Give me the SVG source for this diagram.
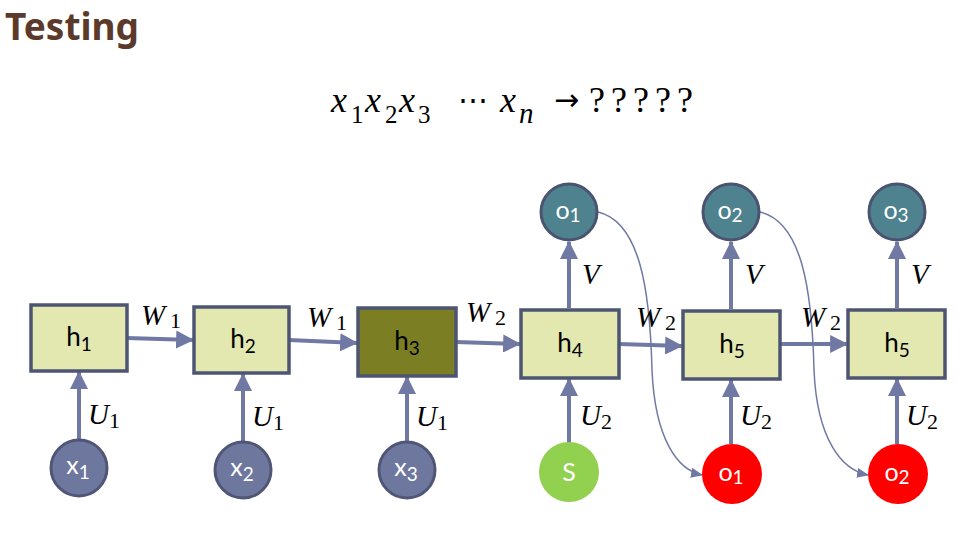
<svg xmlns="http://www.w3.org/2000/svg" width="968" height="535" viewBox="0 0 968 535">
<defs>
<marker id="ah" markerUnits="userSpaceOnUse" markerWidth="18" markerHeight="18" refX="15" refY="8" orient="auto" viewBox="0 0 16 16">
<path d="M0,0 L16,8 L0,16 Z" fill="#7079A3"/>
</marker>
<marker id="ahs" markerUnits="userSpaceOnUse" markerWidth="12" markerHeight="12" refX="11" refY="6" orient="auto" viewBox="0 0 12 12">
<path d="M0,1 L12,6 L0,11 Z" fill="#7079A3"/>
</marker>
<style>
.box{fill:#E3E8B1;stroke:#4E5573;stroke-width:3.5}
.dark{fill:#7B7E22}
.xc{fill:#6E779E;stroke:#4F5676;stroke-width:3}
.oc{fill:#4E828F;stroke:#4A5370;stroke-width:3}
.rc{fill:#FF0000}
.gc{fill:#92D050}
.ar{stroke:#7079A3;stroke-width:4;fill:none;marker-end:url(#ah)}
.cv{stroke:#7079A3;stroke-width:1.5;fill:none;marker-end:url(#ahs)}
.bt{font-family:Lato,"Open Sans",sans-serif;font-size:26px;fill:#000;text-anchor:middle}
.ct{font-family:Lato,"Open Sans",sans-serif;font-size:25px;fill:#fff;text-anchor:middle}
.sub{font-size:19px}
.lb{font-family:"Liberation Serif",serif;font-style:italic;font-size:29px;fill:#000}
.ls{font-family:"Liberation Serif",serif;font-size:22px;fill:#000}
.fx{font-family:"Liberation Serif",serif;font-style:italic;font-size:36px;fill:#000}
.fs{font-family:"Liberation Serif",serif;font-size:25px;fill:#000}
.fq{font-family:"Liberation Serif",serif;font-size:36px;fill:#000}
</style>
</defs>
<text x="5" y="40" font-family="'Noto Sans','Open Sans',sans-serif" font-weight="bold" font-size="37" fill="#5B3A2B">Testing</text>
<g id="formula">
<text class="fx" x="331" y="112">x</text><text class="fs" x="351" y="123">1</text>
<text class="fx" x="365" y="112">x</text><text class="fs" x="385" y="123">2</text>
<text class="fx" x="399" y="112">x</text><text class="fs" x="418" y="123">3</text>
<text x="458" y="110" font-family="'DejaVu Serif',serif" font-size="30" fill="#000">⋯</text>
<text class="fx" x="500" y="112">x</text><text class="fx" x="519" y="123" style="font-size:29px">n</text>
<text x="554" y="110" font-family="'DejaVu Sans',sans-serif" font-size="30" fill="#000">→</text>
<text class="fq" x="589" y="112" letter-spacing="6">?????</text>
</g>
<g id="connectors">
<line class="ar" x1="127" y1="338" x2="193" y2="340"/>
<line class="ar" x1="289" y1="340" x2="357" y2="343"/>
<line class="ar" x1="456" y1="342" x2="520" y2="344"/>
<line class="ar" x1="619" y1="344" x2="682" y2="346"/>
<line class="ar" x1="780" y1="344" x2="847" y2="344"/>
<line class="ar" x1="79" y1="439" x2="79" y2="372"/>
<line class="ar" x1="243" y1="441" x2="243" y2="374"/>
<line class="ar" x1="407" y1="441" x2="407" y2="377"/>
<line class="ar" x1="569" y1="443" x2="569" y2="379"/>
<line class="ar" x1="731" y1="444" x2="731" y2="380"/>
<line class="ar" x1="897" y1="444" x2="897" y2="379"/>
<line class="ar" x1="569" y1="308" x2="569" y2="242"/>
<line class="ar" x1="731" y1="309" x2="731" y2="242"/>
<line class="ar" x1="897" y1="308" x2="897" y2="242"/>
<path class="cv" d="M598,212 C640,222 650,290 652,370 C655,440 678,470 702,475"/>
<path class="cv" d="M760,212 C802,222 812,290 814,370 C817,440 842,470 868,475"/>
<text class="lb" x="141" y="325">W</text><text class="ls" x="170" y="328">1</text>
<text class="lb" x="307" y="327">W</text><text class="ls" x="336" y="330">1</text>
<text class="lb" x="466" y="322">W</text><text class="ls" x="495" y="325">2</text>
<text class="lb" x="636" y="327">W</text><text class="ls" x="665" y="330">2</text>
<text class="lb" x="801" y="327">W</text><text class="ls" x="830" y="330">2</text>
<text class="lb" x="88" y="424">U</text><text class="ls" x="109" y="428">1</text>
<text class="lb" x="252" y="426">U</text><text class="ls" x="273" y="430">1</text>
<text class="lb" x="416" y="426">U</text><text class="ls" x="437" y="430">1</text>
<text class="lb" x="580" y="425">U</text><text class="ls" x="601" y="429">2</text>
<text class="lb" x="740" y="425">U</text><text class="ls" x="761" y="429">2</text>
<text class="lb" x="906" y="425">U</text><text class="ls" x="927" y="429">2</text>
<text class="lb" x="582" y="284">V</text>
<text class="lb" x="745" y="284">V</text>
<text class="lb" x="911" y="284">V</text>
</g>
<g id="h1"><rect class="box" x="31" y="305" width="96" height="66"/><text class="bt" x="79" y="346">h<tspan class="sub" dy="5">1</tspan></text></g>
<g id="h2"><rect class="box" x="194" y="307" width="95" height="66"/><text class="bt" x="243" y="348">h<tspan class="sub" dy="5">2</tspan></text></g>
<g id="h3"><rect class="box dark" x="358" y="308" width="98" height="68"/><text class="bt" x="407" y="350">h<tspan class="sub" dy="5">3</tspan></text></g>
<g id="h4"><rect class="box" x="521" y="310" width="98" height="68"/><text class="bt" x="570" y="352">h<tspan class="sub" dy="5">4</tspan></text></g>
<g id="h5a"><rect class="box" x="683" y="311" width="97" height="68"/><text class="bt" x="732" y="353">h<tspan class="sub" dy="5">5</tspan></text></g>
<g id="h5b"><rect class="box" x="848" y="310" width="97" height="68"/><text class="bt" x="897" y="352">h<tspan class="sub" dy="5">5</tspan></text></g>
<g id="x1"><circle class="xc" cx="79" cy="468" r="28"/><text class="ct" x="78" y="474">x<tspan class="sub" dy="5">1</tspan></text></g>
<g id="x2"><circle class="xc" cx="243" cy="470" r="28"/><text class="ct" x="242" y="476">x<tspan class="sub" dy="5">2</tspan></text></g>
<g id="x3"><circle class="xc" cx="407" cy="470" r="28"/><text class="ct" x="406" y="476">x<tspan class="sub" dy="5">3</tspan></text></g>
<g id="S"><circle class="gc" cx="569" cy="472" r="30"/><text class="ct" x="569" y="481">S</text></g>
<g id="o1top"><circle class="oc" cx="569" cy="212" r="28"/><text class="ct" x="568" y="219">o<tspan class="sub" dy="3">1</tspan></text></g>
<g id="o2top"><circle class="oc" cx="731" cy="212" r="28"/><text class="ct" x="730" y="219">o<tspan class="sub" dy="3">2</tspan></text></g>
<g id="o3top"><circle class="oc" cx="897" cy="212" r="28"/><text class="ct" x="896" y="219">o<tspan class="sub" dy="3">3</tspan></text></g>
<g id="o1red"><circle class="rc" cx="732" cy="474" r="30"/><text class="ct" x="731" y="481">o<tspan class="sub" dy="3">1</tspan></text></g>
<g id="o2red"><circle class="rc" cx="898" cy="474" r="30"/><text class="ct" x="897" y="481">o<tspan class="sub" dy="3">2</tspan></text></g>
</svg>
